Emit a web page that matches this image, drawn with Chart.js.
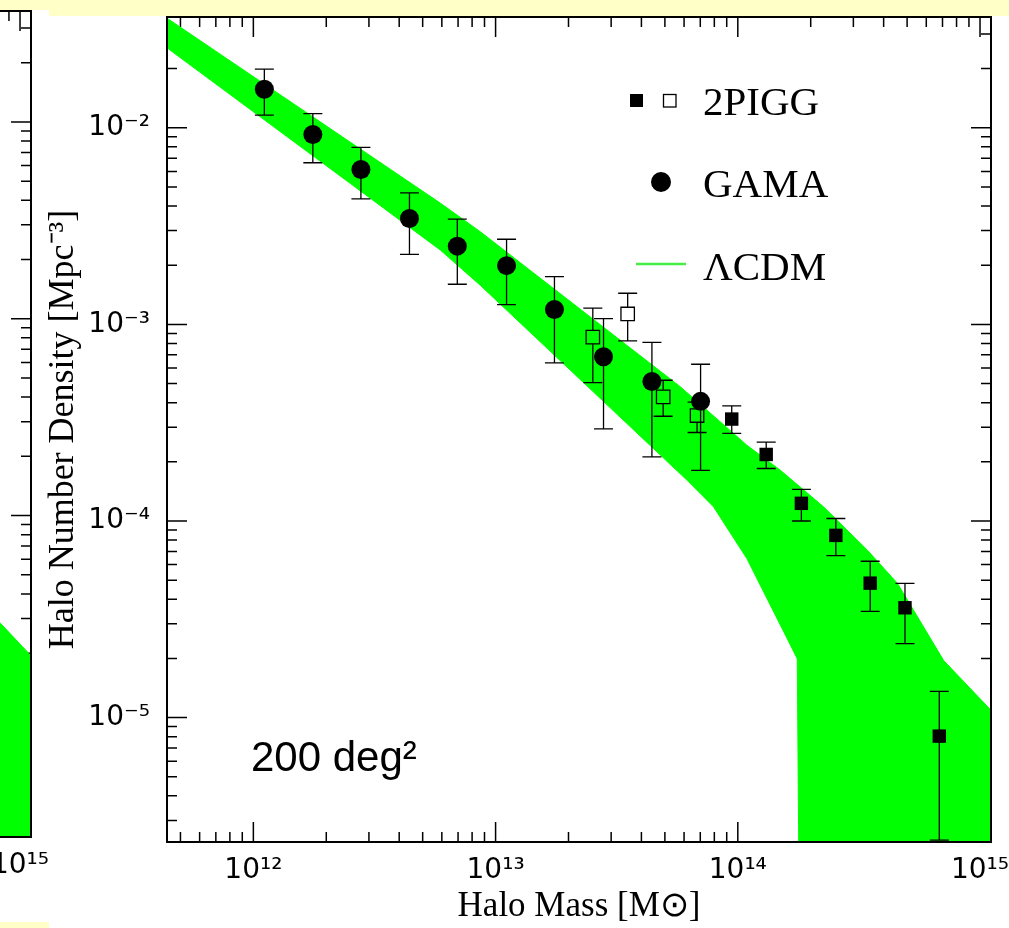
<!DOCTYPE html>
<html>
<head>
<meta charset="utf-8">
<script src="https://cdn.jsdelivr.net/npm/chart.js@4.4.0/dist/chart.umd.min.js"></script>
<style>
  html, body { margin: 0; padding: 0; background: #fff; overflow: hidden; }
  #page { position: relative; width: 1009px; height: 928px; overflow: hidden; background: #fff; }
  .strip { position: absolute; background: #ffffc8; }
  canvas { position: absolute; top: 0; }
</style>
</head>
<body>
<div id="page">
  <div class="strip" style="left:0;top:0;width:49px;height:10px"></div>
  <div class="strip" style="left:49px;top:0;width:960px;height:16px"></div>
  <div class="strip" style="left:0;top:922px;width:49px;height:6px"></div>
  <canvas id="leftPanel" width="1009" height="928" style="left:-960px"></canvas>
  <canvas id="massFunction" width="1009" height="928" style="left:0"></canvas>
</div>
<script>
// Axis ranges (halo mass in Msun, number density in Mpc^-3)
const xRange = [4.40e11, 1.11e15];
const yRange = [2.33e-6, 3.66e-2];

// Tick marks and labels
const xMajorTicks = [1e12, 1e13, 1e14, 1e15];
const xTickLabels = ['10¹²', '10¹³', '10¹⁴', '10¹⁵'];
const yMajorTicks = [1e-5, 1e-4, 1e-3, 1e-2];
const yTickLabels = ['10⁻⁵', '10⁻⁴', '10⁻³', '10⁻²'];
const minorSteps = [2, 3, 4, 5, 6, 7, 8, 9];
const xDecades = [1e11, 1e12, 1e13, 1e14, 1e15];
const yDecades = [1e-6, 1e-5, 1e-4, 1e-3, 1e-2];

// GAMA groups (filled circles)
const gamaMass = [1.11e12, 1.76e12, 2.78e12, 4.41e12, 6.95e12, 1.11e13, 1.75e13, 2.79e13, 4.42e13, 7.02e13];
const gamaDens = [1.57e-2, 9.25e-3, 6.13e-3, 3.46e-3, 2.50e-3, 1.99e-3, 1.19e-3, 6.84e-4, 5.12e-4, 4.06e-4];
const gamaHi   = [1.99e-2, 1.18e-2, 7.95e-3, 4.67e-3, 3.43e-3, 2.71e-3, 1.75e-3, 1.07e-3, 8.11e-4, 6.27e-4];
const gamaLo   = [1.16e-2, 6.64e-3, 4.35e-3, 2.27e-3, 1.60e-3, 1.26e-3, 6.37e-4, 2.94e-4, 2.12e-4, 1.81e-4];

// 2PIGG, open squares
const pigOpenMass = [2.52e13, 3.51e13, 4.92e13, 6.79e13];
const pigOpenDens = [8.61e-4, 1.13e-3, 4.28e-4, 3.44e-4];
const pigOpenHi   = [1.21e-3, 1.44e-3, 5.20e-4, 4.02e-4];
const pigOpenLo   = [5.06e-4, 8.24e-4, 3.41e-4, 2.82e-4];

// 2PIGG, filled squares
const pigFillMass = [9.44e13, 1.31e14, 1.83e14, 2.54e14, 3.52e14, 4.90e14, 6.79e14];
const pigFillDens = [3.30e-4, 2.18e-4, 1.23e-4, 8.45e-5, 4.83e-5, 3.62e-5, 8.05e-6];
const pigFillHi   = [3.85e-4, 2.52e-4, 1.45e-4, 1.03e-4, 6.24e-5, 4.82e-5, 1.36e-5];
const pigFillLo   = [2.79e-4, 1.85e-4, 1.00e-4, 6.67e-5, 3.47e-5, 2.38e-5, 2.38e-6];

// LCDM band (upper and lower edge)
const bandUpMass = [4.40e11, 5.91e12, 8.65e12, 5.80e13, 1.09e14, 1.50e14, 2.26e14, 3.43e14, 4.56e14, 7.08e14, 1.11e15];
const bandUpDens = [3.61e-2, 4.14e-3, 2.96e-3, 4.81e-4, 2.43e-4, 1.81e-4, 1.18e-4, 7.10e-5, 4.82e-5, 1.95e-5, 1.09e-5];
const bandLoMass = [4.40e11, 5.91e12, 8.65e12, 6.18e13, 7.94e13, 1.09e14, 1.32e14, 1.60e14, 1.76e14, 1.82e14, 1.11e15];
const bandLoDens = [2.55e-2, 2.39e-3, 1.58e-3, 1.61e-4, 1.18e-4, 6.44e-5, 4.03e-5, 2.52e-5, 1.99e-5, 1e-7, 1e-7];

// neighbouring panel (only its right edge is visible)
const leftUpMass = [3.21e14, 8.32e14, 1.11e15];
const leftUpDens = [9.44e-5, 2.83e-5, 1.94e-5];
const leftLoMass = [3.21e14, 1.11e15];
const leftLoDens = [1e-7, 1e-7];

const GREEN = '#00ff00';

function pts(xs, ys) {
  return xs.map((v, i) => ({ x: v, y: ys[i] }));
}

// inward tick marks on all four sides, drawn under the data
const frameTicks = {
  id: 'frameTicks',
  beforeDraw(chart) {
    const { ctx, chartArea: a, scales: { x, y } } = chart;
    const xMinor = [], yMinor = [];
    xDecades.forEach(d => minorSteps.forEach(m => xMinor.push(d * m)));
    yDecades.forEach(d => minorSteps.forEach(m => yMinor.push(d * m)));
    ctx.save();
    ctx.strokeStyle = '#000';
    ctx.lineWidth = 1.5;
    ctx.beginPath();
    const onX = (v, len) => {
      const px = x.getPixelForValue(v);
      if (px <= a.left + 1 || px >= a.right - 1) return;
      ctx.moveTo(px, a.bottom); ctx.lineTo(px, a.bottom - len);
      ctx.moveTo(px, a.top); ctx.lineTo(px, a.top + len);
    };
    const onY = (v, len) => {
      const py = y.getPixelForValue(v);
      if (py <= a.top + 1 || py >= a.bottom - 1) return;
      ctx.moveTo(a.left, py); ctx.lineTo(a.left + len, py);
      ctx.moveTo(a.right, py); ctx.lineTo(a.right - len, py);
    };
    xMinor.forEach(v => onX(v, 10));
    xMajorTicks.forEach(v => onX(v, 20));
    yMinor.forEach(v => onY(v, 10));
    yMajorTicks.forEach(v => onY(v, 20));
    ctx.stroke();
    ctx.restore();
  },
  afterDraw(chart) {
    const { ctx, chartArea: a } = chart;
    ctx.save();
    ctx.strokeStyle = '#000';
    ctx.lineWidth = 2;
    ctx.strokeRect(a.left, a.top, a.right - a.left, a.bottom - a.top);
    ctx.restore();
  }
};

// vertical error bars with caps
const errorBars = {
  id: 'errorBars',
  afterDatasetsDraw(chart) {
    const { ctx, chartArea: a, scales: { x, y } } = chart;
    ctx.save();
    ctx.beginPath();
    ctx.rect(a.left, a.top, a.right - a.left, a.bottom - a.top);
    ctx.clip();
    ctx.strokeStyle = '#000';
    ctx.lineWidth = 1.3;
    chart.data.datasets.forEach(ds => {
      if (!ds.errLo) return;
      const cap = 9.5;
      const gap = ds.errGap || 0;
      ds.data.forEach((p, i) => {
        const px = x.getPixelForValue(p.x);
        const py = y.getPixelForValue(p.y);
        const top = y.getPixelForValue(ds.errHi[i]);
        const bot = y.getPixelForValue(ds.errLo[i]);
        ctx.beginPath();
        ctx.moveTo(px, top); ctx.lineTo(px, py - gap);
        ctx.moveTo(px, py + gap); ctx.lineTo(px, bot);
        ctx.moveTo(px - cap, top); ctx.lineTo(px + cap, top);
        ctx.moveTo(px - cap, bot); ctx.lineTo(px + cap, bot);
        ctx.stroke();
      });
    });
    ctx.restore();
  }
};

// legend and the survey-area note
const annotations = {
  id: 'annotations',
  afterDraw(chart) {
    const { ctx } = chart;
    ctx.save();
    ctx.fillStyle = '#000';
    ctx.strokeStyle = '#000';
    ctx.fillRect(630, 94, 13, 13);
    ctx.lineWidth = 1.3;
    ctx.strokeRect(663.5, 94.5, 12.5, 12.5);
    ctx.beginPath();
    ctx.arc(661, 182, 10, 0, Math.PI * 2);
    ctx.fill();
    ctx.strokeStyle = '#44ee44';
    ctx.lineWidth = 2.5;
    ctx.beginPath();
    ctx.moveTo(636, 264); ctx.lineTo(686, 264);
    ctx.stroke();

    ctx.font = '41px "Liberation Serif", serif';
    ctx.textBaseline = 'alphabetic';
    ctx.textAlign = 'left';
    ctx.fillText('2PIGG', 703, 115);
    ctx.fillText('GAMA', 703, 197);
    ctx.fillText('ΛCDM', 703, 280);

    ctx.font = '42px "Liberation Sans", sans-serif';
    ctx.fillText('200 deg²', 251, 771);
    ctx.restore();
  }
};

function axes(xHeight) {
  return {
    x: {
      type: 'logarithmic',
      min: xRange[0],
      max: xRange[1],
      grid: { display: false, drawTicks: false },
      border: { display: false },
      afterBuildTicks: s => { s.ticks = xMajorTicks.map(v => ({ value: v })); },
      afterFit: s => { s.height = xHeight; s.paddingLeft = 0; s.paddingRight = 0; },
      ticks: {
        autoSkip: false,
        maxRotation: 0,
        padding: 12,
        color: '#000',
        font: { family: '"DejaVu Sans", sans-serif', size: 28 },
        callback: v => xTickLabels[xMajorTicks.indexOf(v)] || ''
      },
      title: {
        display: true,
        text: 'Halo Mass [M⊙]',
        color: '#000',
        font: { family: '"Liberation Serif", serif', size: 35 },
        padding: { top: 0, bottom: 0 }
      }
    },
    y: {
      type: 'logarithmic',
      min: yRange[0],
      max: yRange[1],
      grid: { display: false, drawTicks: false },
      border: { display: false },
      afterBuildTicks: s => { s.ticks = yMajorTicks.map(v => ({ value: v })); },
      afterFit: s => { s.width = 167; s.paddingTop = 0; s.paddingBottom = 0; },
      ticks: {
        autoSkip: false,
        padding: 17,
        color: '#000',
        font: { family: '"DejaVu Sans", sans-serif', size: 28 },
        callback: v => yTickLabels[yMajorTicks.indexOf(v)] || ''
      },
      title: {
        display: true,
        text: 'Halo Number Density [Mpc⁻³]',
        color: '#000',
        font: { family: '"Liberation Serif", serif', size: 36 },
        padding: { top: 42, bottom: 0 }
      }
    }
  };
}

function bandSets(upX, upY, loX, loY) {
  return [
    {
      label: 'ΛCDM',
      data: pts(upX, upY),
      showLine: true,
      pointRadius: 0,
      borderColor: GREEN,
      borderWidth: 1,
      backgroundColor: GREEN,
      fill: '+1',
      order: 10
    },
    {
      label: 'ΛCDM lower',
      data: pts(loX, loY),
      showLine: true,
      pointRadius: 0,
      borderColor: GREEN,
      borderWidth: 1,
      fill: false,
      order: 11
    }
  ];
}

const baseOptions = (padTop, xHeight) => ({
  responsive: false,
  devicePixelRatio: 1,
  animation: false,
  events: [],
  layout: { padding: { left: 0, right: 18, top: padTop, bottom: 0 } },
  plugins: {
    legend: { display: false },
    tooltip: { enabled: false },
    filler: { drawTime: 'beforeDatasetsDraw' }
  },
  scales: axes(xHeight)
});

// neighbouring panel, shifted so only its right edge shows
new Chart(document.getElementById('leftPanel'), {
  type: 'scatter',
  data: { datasets: bandSets(leftUpMass, leftUpDens, leftLoMass, leftLoDens) },
  options: baseOptions(11, 91),
  plugins: [frameTicks]
});

new Chart(document.getElementById('massFunction'), {
  type: 'scatter',
  data: {
    datasets: [
      ...bandSets(bandUpMass, bandUpDens, bandLoMass, bandLoDens),
      {
        label: 'GAMA',
        data: pts(gamaMass, gamaDens),
        errHi: gamaHi,
        errLo: gamaLo,
        pointStyle: 'circle',
        pointRadius: 9.5,
        backgroundColor: '#000',
        borderColor: '#000',
        borderWidth: 0,
        order: 1
      },
      {
        label: '2PIGG',
        data: pts(pigFillMass, pigFillDens),
        errHi: pigFillHi,
        errLo: pigFillLo,
        pointStyle: 'rect',
        pointRadius: 9.5,
        backgroundColor: '#000',
        borderColor: '#000',
        borderWidth: 0,
        order: 1
      },
      {
        label: '2PIGG (open)',
        data: pts(pigOpenMass, pigOpenDens),
        errHi: pigOpenHi,
        errLo: pigOpenLo,
        errGap: 7,
        pointStyle: 'rect',
        pointRadius: 9.5,
        backgroundColor: 'rgba(0,0,0,0)',
        borderColor: '#000',
        borderWidth: 1.3,
        order: 1
      }
    ]
  },
  options: baseOptions(17, 86),
  plugins: [frameTicks, errorBars, annotations]
});
</script>
</body>
</html>
